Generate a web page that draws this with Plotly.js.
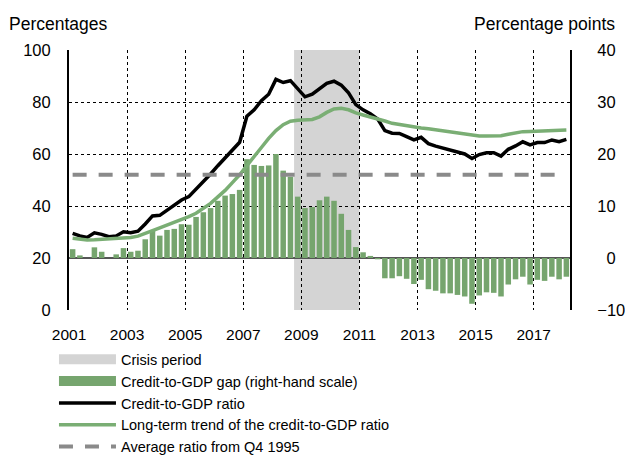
<!DOCTYPE html>
<html>
<head>
<meta charset="utf-8">
<script src="https://cdn.plot.ly/plotly-3.0.1.min.js"></script>
<style>
  html, body { margin: 0; padding: 0; background: #ffffff; }
  #chart { width: 625px; height: 457px; }
</style>
</head>
<body>
<div id="chart"></div>
<script>
// ---- Data (quarterly, 2001 Q1 to 2018 Q1) ----
var startYear = 2001;
var creditGap = [1.7,0.5,0,2.05,1.2,0,0.7,1.9,1.2,1.4,
  3.6,5.2,4.3,5.4,5.6,6.5,6.4,7.9,8.8,9.6,
  11.0,12.0,12.3,13.1,19.0,17.9,17.7,17.8,20.0,16.8,
  15.6,11.8,9.6,9.8,11.1,11.8,11.0,8.5,5.4,2.1,
  1.1,0.4,-0.25,-3.9,-3.9,-3.5,-4.0,-5.0,-4.2,-6.0,
  -6.3,-6.8,-6.8,-7.1,-7.4,-8.8,-7.2,-6.6,-6.7,-7.4,
  -5.1,-4.1,-3.6,-5.1,-4.2,-4.4,-3.6,-4.1,-3.6];
var creditRatio = [29.5,28.5,27.9,29.7,29.1,28.2,28.5,30.1,29.7,30.3,
  33.1,36.2,36.4,38.5,40.4,42.3,43.6,46.4,49.2,52.3,
  55.5,58.5,61.5,64.5,74.5,77,80.5,83,88.7,87.5,
  88.2,85,82,83,85.3,87.2,88,86.5,83.5,79,
  77,75.5,73.5,69,68,67.9,66.7,65.4,66.4,64,
  63,62.2,61.5,60.9,60,58.3,59.8,60.5,60.5,59.2,
  61.8,63.1,64.7,63.5,64.4,64.4,65.4,64.7,65.6];
var longTermTrend = [27.6,27.2,26.9,27.0,27.2,27.3,27.4,27.6,27.9,28.4,
  29.3,30.5,31.6,32.6,33.6,34.7,35.9,37.2,39.0,41.0,
  43.5,46.0,49.0,52.0,55.5,58.8,62.5,66.0,69.0,71.3,
  72.6,73.0,73.0,73.3,74.3,76.0,77.3,77.6,77.0,75.8,
  75.0,74.3,73.7,72.7,71.8,71.3,70.8,70.4,70.0,69.7,
  69.3,68.8,68.4,68.0,67.5,67.0,66.9,66.9,66.9,67.0,
  67.6,68.2,68.6,68.7,68.8,68.9,69.0,69.1,69.2];
var averageRatio = 52;
var crisisStart = 2008.75;   // Q4 2008
var crisisEnd = 2011.0;      // end of 2010
var xTickYears = [2001,2003,2005,2007,2009,2011,2013,2015,2017];
var xTickLabels = ["2001","2003","2005","2007","2009","2011","2013","2015","2017"];
var leftTicks = [0,20,40,60,80,100];
var leftTickLabels = ["0","20","40","60","80","100"];
var rightTicks = [-10,0,10,20,30,40];
var rightTickLabels = ["\u221210","\u20070","10","20","30","40"];
var seriesNames = ["Crisis period","Credit-to-GDP gap (right-hand scale)","Credit-to-GDP ratio",
  "Long-term trend of the credit-to-GDP ratio","Average ratio from Q4 1995"];

// quarter positions (mid-quarter on a year axis)
var quarterX = creditGap.map(function(_, i){ return startYear + (i + 0.5) / 4; });
var avgSeries = quarterX.map(function(){ return averageRatio; });

var FONT = "'Liberation Sans', Arial, sans-serif";
var GREEN_BAR = "#76a56e";
var GREEN_LINE = "#7aae74";
var GREY_CRISIS = "#d4d4d4";

var traces = [
  // legend-only swatches (wide rectangles, like the original legend)
  { type: "scatter", mode: "lines", x: [null], y: [null], yaxis: "y", name: seriesNames[0],
    line: { color: GREY_CRISIS, width: 10 }, showlegend: true, hoverinfo: "skip" },
  { type: "scatter", mode: "lines", x: [null], y: [null], yaxis: "y", name: seriesNames[1],
    line: { color: GREEN_BAR, width: 10 }, showlegend: true, hoverinfo: "skip" },
  { type: "bar", x: quarterX, y: creditGap, yaxis: "y", name: seriesNames[1], showlegend: false,
    marker: { color: GREEN_BAR, line: { width: 0 } }, width: 0.19 },
  { type: "scatter", mode: "lines", x: quarterX, y: creditRatio, yaxis: "y2", name: seriesNames[2],
    line: { color: "#000000", width: 3.5 } },
  { type: "scatter", mode: "lines", x: quarterX, y: longTermTrend, yaxis: "y2", name: seriesNames[3],
    line: { color: GREEN_LINE, width: 3.5 } },
  { type: "scatter", mode: "lines", x: quarterX, y: avgSeries, yaxis: "y2", name: seriesNames[4],
    line: { color: "#8a8a8a", width: 4, dash: "14px,12px" } }
];

var layout = {
  width: 625, height: 457,
  margin: { l: 69, r: 55, t: 50, b: 147, autoexpand: false },
  paper_bgcolor: "#ffffff", plot_bgcolor: "#ffffff",
  font: { family: FONT, size: 14.5, color: "#000000" },
  barmode: "overlay",
  showlegend: true,
  legend: {
    x: -0.03, xanchor: "left", y: -0.128, yanchor: "top",
    orientation: "v", traceorder: "normal",
    font: { family: FONT, size: 14.5, color: "#000000" },
    itemwidth: 57, tracegroupgap: 0, bgcolor: "rgba(0,0,0,0)"
  },
  xaxis: {
    range: [2001, 2018.25], tickvals: xTickYears, ticktext: xTickLabels,
    showgrid: true, gridcolor: "#000000", gridwidth: 1, griddash: "dot",
    showline: false, zeroline: false, ticks: "", ticklabelstandoff: 13,
    tickfont: { family: FONT, size: 15.5 }
  },
  yaxis: {
    side: "right", range: [-10, 40], tickvals: rightTicks, ticktext: rightTickLabels,
    showgrid: true, gridcolor: "#000000", gridwidth: 1, griddash: "dot",
    zeroline: true, zerolinecolor: "#555555", zerolinewidth: 2,
    showline: true, linecolor: "#000000", linewidth: 2, ticks: "",
    ticklabelstandoff: 22, tickfont: { family: FONT, size: 16.5 }
  },
  yaxis2: {
    side: "left", overlaying: "y", range: [0, 100], tickvals: leftTicks, ticktext: leftTickLabels,
    showgrid: false, zeroline: false,
    showline: true, linecolor: "#000000", linewidth: 2, ticks: "",
    ticklabelstandoff: 13, tickfont: { family: FONT, size: 16.5 }
  },
  shapes: [
    { type: "rect", xref: "x", yref: "paper", x0: crisisStart, x1: crisisEnd, y0: 0, y1: 1,
      fillcolor: GREY_CRISIS, line: { width: 0 }, layer: "below" }
  ],
  annotations: [
    { text: "Percentages", xref: "paper", yref: "paper", x: -0.124, y: 1.1,
      xanchor: "left", yanchor: "middle", showarrow: false, font: { family: FONT, size: 17.5 } },
    { text: "Percentage points", xref: "paper", yref: "paper", x: 1.094, y: 1.1,
      xanchor: "right", yanchor: "middle", showarrow: false, font: { family: FONT, size: 17.5 } }
  ]
};

Plotly.newPlot("chart", traces, layout, { displayModeBar: false, staticPlot: true });
</script>
</body>
</html>
